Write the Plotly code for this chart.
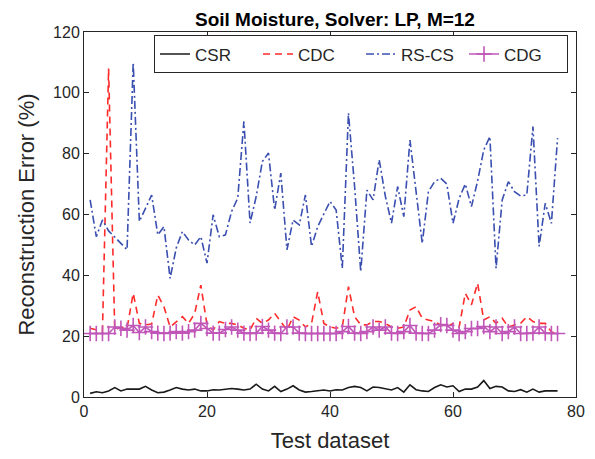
import plotly.graph_objects as go

x = list(range(1, 78))

csr = [1.2, 1.7, 1.4, 2.0, 3.1, 2.0, 2.6, 2.6, 2.6, 3.5,
       2.3, 1.4, 1.6, 2.3, 3.1, 2.6, 2.3, 2.6, 2.0, 2.0,
       2.4, 2.3, 2.6, 2.8, 2.6, 2.3, 2.6, 4.2, 2.6, 2.0,
       3.5, 1.8, 2.6, 3.7, 2.3, 1.6, 1.8, 2.0, 2.3, 2.0,
       2.4, 2.3, 3.1, 3.5, 3.1, 2.0, 3.3, 3.1, 2.6, 2.3,
       3.1, 1.6, 4.0, 2.4, 2.0, 1.8, 3.1, 4.0, 3.3, 3.7,
       1.8, 2.6, 2.6, 3.3, 5.4, 2.8, 3.5, 3.3, 2.0, 1.8,
       2.4, 1.6, 2.6, 1.6, 2.0, 2.0, 2.0]

cdc = [22.6, 22.0, 21.5, 108.0, 22.0, 23.0, 22.6, 34.1, 24.2, 23.7,
       24.0, 33.5, 29.7, 23.0, 24.8, 26.4, 24.2, 27.5, 36.8, 23.7,
       22.0, 24.8, 24.2, 24.2, 23.7, 22.6, 22.0, 25.9, 24.2, 25.3,
       27.5, 24.8, 22.0, 26.4, 25.3, 23.0, 24.2, 34.6, 24.2, 23.0,
       22.6, 23.0, 36.3, 26.4, 23.7, 23.7, 24.8, 24.8, 24.2, 23.0,
       22.6, 23.0, 28.6, 29.7, 25.9, 25.3, 24.8, 23.7, 23.0, 24.2,
       23.0, 34.1, 30.3, 37.4, 25.3, 26.4, 24.2, 25.9, 23.0, 23.7,
       24.2, 26.4, 24.8, 24.2, 24.2, 21.4, 20.8]

rscs = [64.8, 52.7, 58.2, 54.6, 52.6, 50.6, 48.4, 110.0, 57.7, 62.0,
        66.4, 53.3, 56.0, 39.0, 49.0, 54.4, 51.6, 50.0, 52.7, 44.0,
        59.9, 52.7, 53.3, 61.0, 65.4, 90.6, 57.2, 65.9, 77.4, 80.2,
        61.5, 73.6, 48.4, 58.2, 56.6, 66.4, 49.5, 56.0, 60.4, 64.3,
        61.5, 42.3, 93.3, 69.2, 41.2, 68.0, 64.8, 78.0, 66.0, 57.2,
        69.2, 59.3, 84.5, 67.5, 50.5, 67.5, 70.8, 71.9, 70.0, 57.1,
        65.3, 70.0, 62.6, 71.0, 81.2, 85.6, 42.3, 64.8, 70.8, 67.5,
        66.1, 66.4, 88.9, 49.5, 63.7, 57.1, 85.1]

cdg = [20.9, 20.9, 20.9, 20.9, 23.0, 22.6, 22.0, 23.5, 21.2, 23.0,
       21.5, 21.0, 20.9, 21.0, 21.5, 21.0, 21.5, 22.0, 24.2, 22.5,
       21.0, 21.0, 22.2, 23.0, 22.0, 21.0, 20.9, 21.0, 23.2, 22.0,
       21.0, 20.9, 23.0, 23.0, 21.0, 20.9, 20.9, 20.9, 20.9, 20.9,
       20.9, 21.5, 23.2, 21.0, 20.9, 21.5, 23.0, 22.0, 23.0, 21.0,
       20.9, 21.5, 23.5, 21.0, 20.9, 20.9, 22.0, 23.8, 23.5, 22.0,
       20.9, 21.5, 22.5, 22.5, 23.2, 21.5, 23.0, 20.9, 21.5, 23.0,
       20.9, 20.9, 21.0, 23.0, 21.0, 20.9, 20.9]

x_ticks = [0, 20, 40, 60, 80]
y_ticks = [0, 20, 40, 60, 80, 100, 120]

FONT = "Liberation Sans, Arial, Helvetica"

fig = go.Figure()
fig.add_trace(go.Scatter(x=x, y=csr, name="CSR", mode="lines",
                         line=dict(color="#1a1a1a", width=1.6)))
fig.add_trace(go.Scatter(x=x, y=cdc, name="CDC", mode="lines",
                         line=dict(color="#ff2a2a", width=1.6, dash="7px,5px")))
fig.add_trace(go.Scatter(x=x, y=rscs, name="RS-CS", mode="lines",
                         line=dict(color="#3a4fb0", width=1.6, dash="8px,3px,2px,3px")))
fig.add_trace(go.Scatter(x=x, y=cdg, name="CDG", mode="lines+markers",
                         line=dict(color="#c056b8", width=1.6),
                         marker=dict(symbol="cross-thin-open", size=11,
                                     line=dict(color="#c056b8", width=1.6))))

axis_common = dict(showline=True, linecolor="#262626", linewidth=1, mirror="allticks",
                   ticks="inside", ticklen=5, tickcolor="#262626", showgrid=False,
                   zeroline=False, automargin=False,
                   tickfont=dict(family=FONT, size=16, color="#262626"),
                   title_font=dict(family=FONT, size=22, color="#262626"))

fig.update_xaxes(range=[0, 80], tickvals=x_ticks, title_text="Test dataset",
                 title_standoff=13, **axis_common)
fig.update_yaxes(range=[0, 120], tickvals=y_ticks, title_text="Reconstruction Error (%)",
                 title_standoff=12, **axis_common)

fig.update_layout(
    width=587, height=451,
    margin=dict(l=75.5, r=19, t=24, b=62, pad=0, autoexpand=False),
    paper_bgcolor="white", plot_bgcolor="white",
    title=dict(text="<b>Soil Moisture, Solver: LP, M=12</b>", x=0.557, xanchor="center",
               y=0.989, yanchor="top", pad=dict(t=0, b=0, l=0, r=0),
               font=dict(family=FONT, size=19, color="#000000")),
    legend=dict(orientation="h", x=0.9838, xanchor="right", y=0.9905, yanchor="top",
                bgcolor="white", bordercolor="#262626", borderwidth=1,
                font=dict(family=FONT, size=17, color="#262626"),
                entrywidth=58, tracegroupgap=0, itemwidth=30),
    showlegend=True,
)

fig.write_html("out.html")
